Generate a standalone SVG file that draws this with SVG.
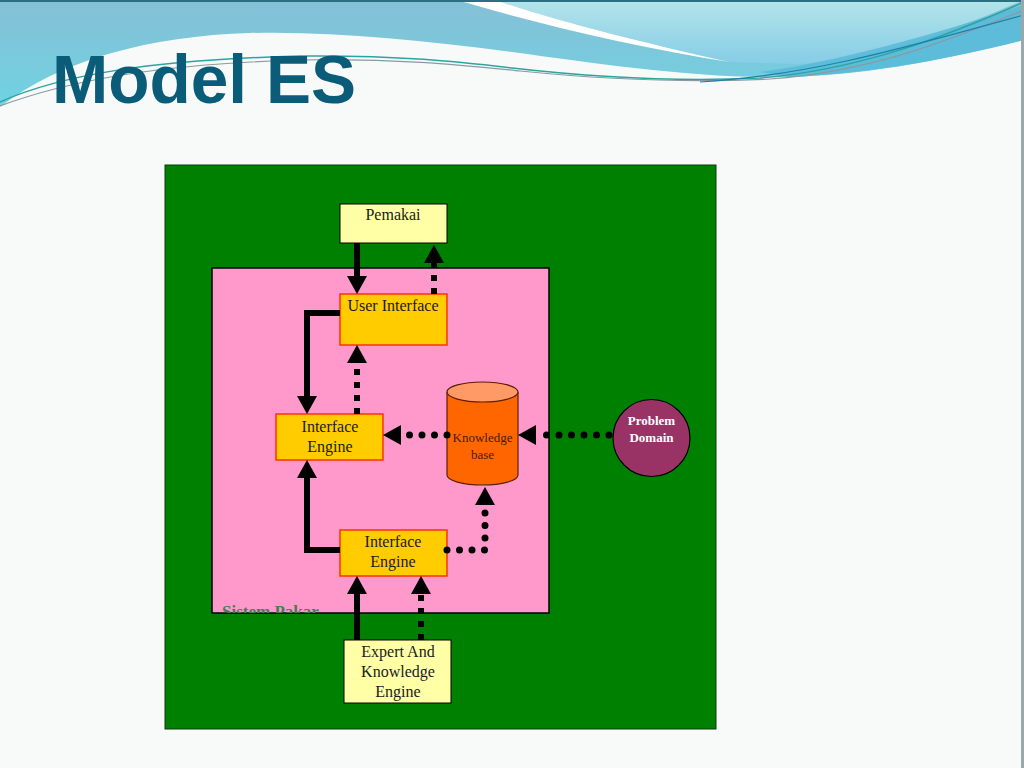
<svg xmlns="http://www.w3.org/2000/svg" width="1024" height="768" viewBox="0 0 1024 768">
<defs>
<linearGradient id="gBlue" x1="0" y1="0" x2="0" y2="1">
<stop offset="0" stop-color="#86bfd6"/>
<stop offset="1" stop-color="#6fd3e2"/>
</linearGradient>
<linearGradient id="gCyan" x1="0" y1="0" x2="0" y2="1">
<stop offset="0" stop-color="#b4e4ea"/>
<stop offset="1" stop-color="#86cde6"/>
</linearGradient>
<marker id="ah" viewBox="0 0 18 20" refX="2" refY="10" markerWidth="18" markerHeight="20" markerUnits="userSpaceOnUse" orient="auto">
<path d="M0,0 L18,10 L0,20 Z" fill="#000"/>
</marker>
<clipPath id="pinkClip"><rect x="212" y="268" width="337" height="345"/></clipPath>
<style>
.box{stroke:#000;stroke-width:1}
.light{fill:#ffffa6}
.gold{fill:#ffcc00;stroke:#ff3300;stroke-width:1.5}
.lbl{font-family:"Liberation Serif","Times New Roman",serif;font-size:16px;fill:#1a1a1a;text-anchor:middle}
.solid{fill:none;stroke:#000;stroke-width:6;marker-end:url(#ah)}
.sq{fill:none;stroke:#000;stroke-width:6;stroke-dasharray:6 7;marker-end:url(#ah)}
.dot{fill:none;stroke:#000;stroke-width:7;stroke-linecap:round;stroke-dasharray:0 12.5;marker-end:url(#ah)}
</style>
</defs>

<g id="background">
<rect x="0" y="0" width="1024" height="768" fill="#f8fafa"/>
<path d="M0,0 H1024 V40 C960,56 880,74 790,77 C700,79 600,64 512,52 C420,40 330,31 250,33 C150,36 60,60 0,107 Z" fill="url(#gBlue)"/>
<path d="M495,0 H1024 C960,28 880,58 800,64 L729,62 C640,42 560,22 495,0 Z" fill="url(#gCyan)"/>
<path d="M457,0 L495,0 C560,22 640,42 729,62 C640,48 540,25 457,0 Z" fill="#ffffff"/>
<path d="M760,72 C860,58 960,25 1024,5 V40 C960,56 880,73 790,77 Z" fill="#55b9d8" opacity="0.8"/>
<path d="M0,102 C60,75 150,60 300,56 C400,55 460,62 512,68 C600,78 680,82 760,78 C860,70 950,35 1024,2" fill="none" stroke="#2aa5a0" stroke-width="1.5"/>
<path d="M0,106 C70,80 160,64 300,60 C400,58 470,66 520,71 C610,80 690,83 770,79 C870,72 950,40 1024,10" fill="none" stroke="#8a9aa0" stroke-width="1.2"/>
<path d="M700,82 C820,75 930,40 1024,15" fill="none" stroke="#1f7fa8" stroke-width="1.2"/>
<rect x="0" y="0" width="1024" height="2" fill="#2b6f80"/>
<rect x="1021" y="0" width="3" height="768" fill="#9aa8ac"/>
</g>

<text id="title" x="52" y="103" font-family="'Liberation Sans',Arial,sans-serif" font-weight="bold" font-size="68" fill="#0b5c78" textLength="304" lengthAdjust="spacingAndGlyphs">Model ES</text>

<g id="environment">
<rect x="165" y="165" width="551" height="564" fill="#008000" stroke="#0a3a0a" stroke-width="1"/>
</g>

<g id="sistem-pakar">
<rect x="212" y="268" width="337" height="345" fill="#ff99cc" stroke="#000" stroke-width="1.5"/>
<text x="222" y="617" clip-path="url(#pinkClip)" font-family="'Liberation Serif','Times New Roman',serif" font-weight="bold" font-size="17" fill="#4a7c4a">Sistem Pakar</text>
</g>

<g id="pemakai">
<rect class="box light" x="340" y="204" width="107" height="39"/>
<text class="lbl" x="393" y="220">Pemakai</text>
</g>

<g id="user-interface">
<rect class="gold" x="340" y="294" width="107" height="51"/>
<text class="lbl" x="393" y="311">User Interface</text>
</g>

<g id="interface-engine-1">
<rect class="gold" x="276" y="414" width="107" height="46"/>
<text class="lbl" x="330" y="432">Interface</text>
<text class="lbl" x="330" y="452">Engine</text>
</g>

<g id="interface-engine-2">
<rect class="gold" x="340" y="530" width="107" height="46"/>
<text class="lbl" x="393" y="547">Interface</text>
<text class="lbl" x="393" y="567">Engine</text>
</g>

<g id="knowledge-base">
<path d="M447,392 V475 A35.5,10 0 0 0 518,475 V392" fill="#ff6600" stroke="#5a2000" stroke-width="1.2"/>
<ellipse cx="482.5" cy="392" rx="35.5" ry="10" fill="#ff9966" stroke="#5a2000" stroke-width="1.2"/>
<text x="482.5" y="442" font-family="'Liberation Serif','Times New Roman',serif" font-size="13" fill="#4a1a00" text-anchor="middle">Knowledge</text>
<text x="482.5" y="459" font-family="'Liberation Serif','Times New Roman',serif" font-size="13" fill="#4a1a00" text-anchor="middle">base</text>
</g>

<g id="problem-domain">
<circle cx="651.5" cy="438" r="38.5" fill="#993366" stroke="#000" stroke-width="1.2"/>
<text x="651.5" y="425" font-family="'Liberation Serif','Times New Roman',serif" font-weight="bold" font-size="13" fill="#ffffff" text-anchor="middle">Problem</text>
<text x="651.5" y="442" font-family="'Liberation Serif','Times New Roman',serif" font-weight="bold" font-size="13" fill="#ffffff" text-anchor="middle">Domain</text>
</g>

<g id="expert">
<rect class="box light" x="344" y="640" width="107" height="63"/>
<text class="lbl" x="398" y="657">Expert And</text>
<text class="lbl" x="398" y="677">Knowledge</text>
<text class="lbl" x="398" y="697">Engine</text>
</g>

<g id="connectors">
<path class="solid" d="M357,243 V278"/>
<path class="sq" d="M434,294 V261"/>
<path class="solid" d="M340,313 H307 V398"/>
<path class="sq" d="M357,414 V361"/>
<path class="dot" d="M447,435 H399"/>
<path class="dot" d="M609,435 H534"/>
<path class="solid" d="M340,550 H307 V476"/>
<path class="dot" d="M447,550 H485 V503"/>
<path class="solid" d="M357,640 V592"/>
<path class="sq" d="M421,640 V592"/>
</g>
</svg>
